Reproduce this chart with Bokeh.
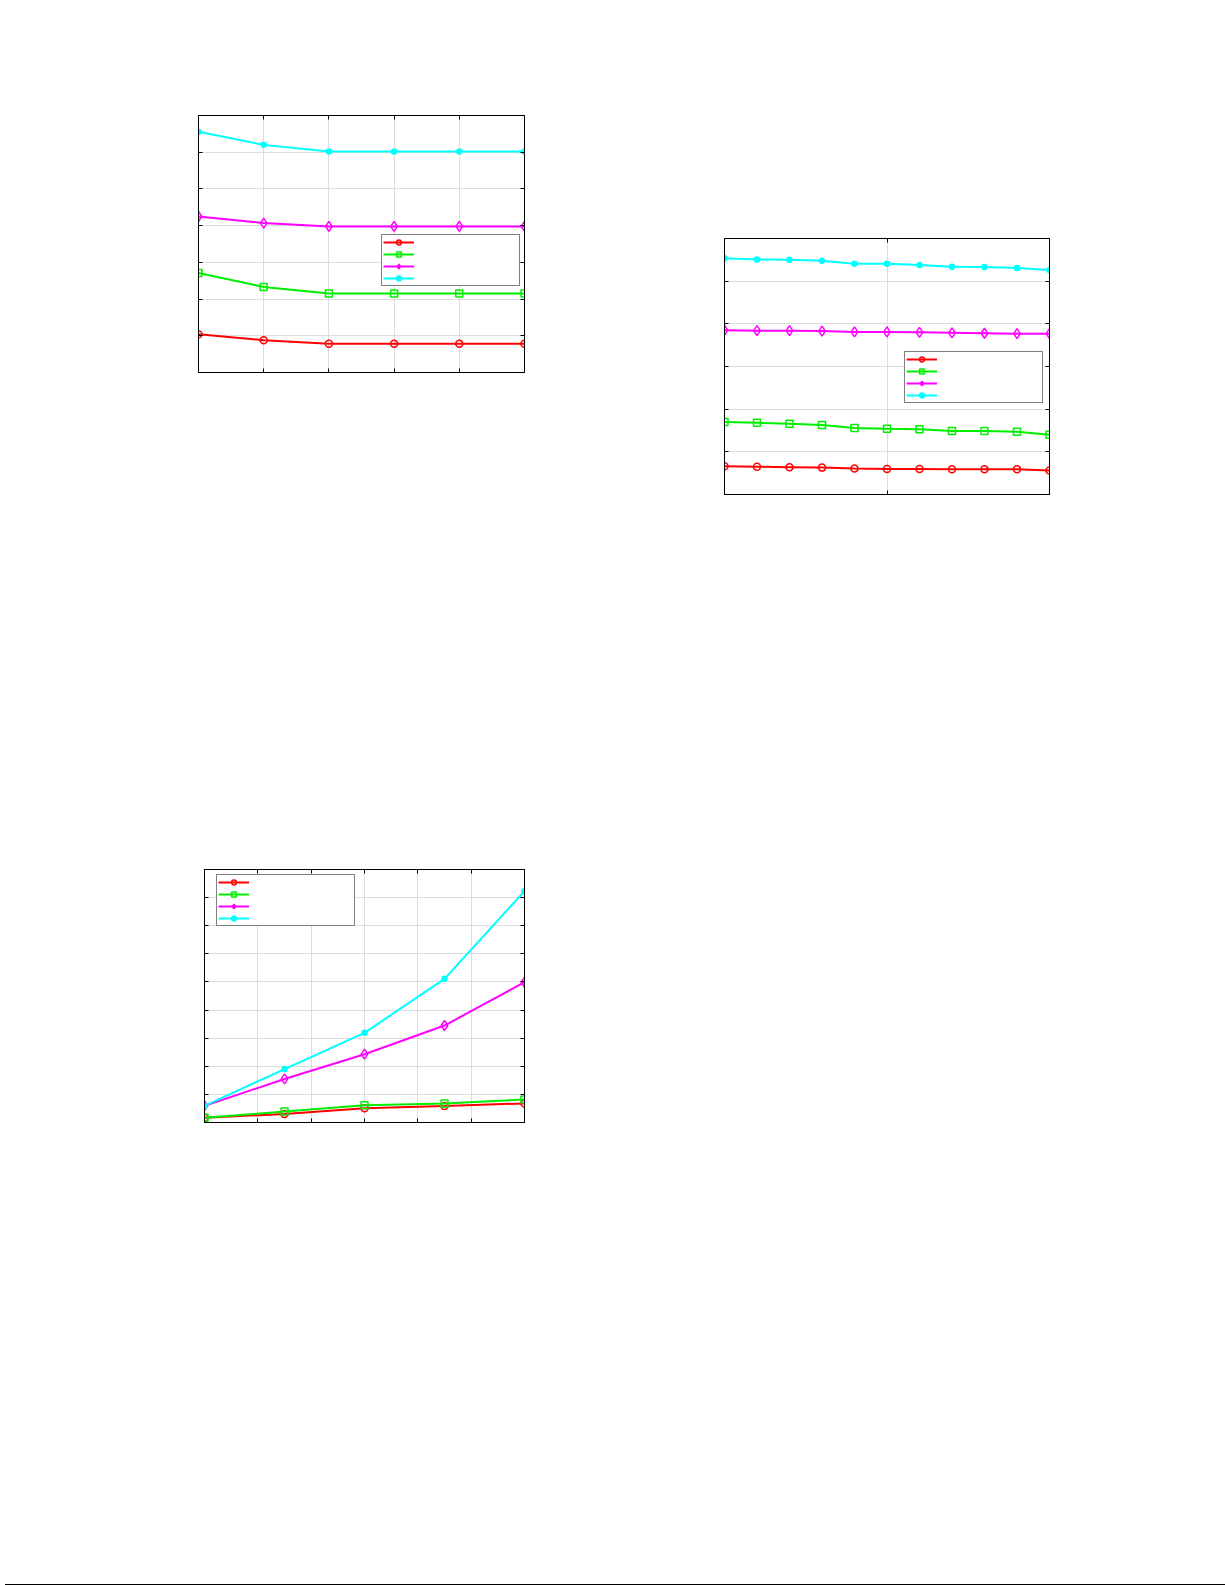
from bokeh.plotting import figure
from bokeh.models import Range1d, LinearAxis, FixedTicker, Legend, LegendItem, Div, Spacer
from bokeh.layouts import column, row
from bokeh.embed import file_html
from bokeh.resources import INLINE
from bokeh.core.properties import value

# ---------------- data ----------------
# Panel 1 (top left)
p1_x = [0, 1, 2, 3, 4, 5]
p1_red = [1.04, 0.88, 0.78, 0.78, 0.78, 0.78]
p1_green = [2.71, 2.33, 2.15, 2.15, 2.15, 2.15]
p1_magenta = [4.25, 4.07, 3.98, 3.98, 3.98, 3.98]
p1_cyan = [6.56, 6.20, 6.02, 6.02, 6.02, 6.02]
p1_xticks = [0, 1, 2, 3, 4, 5]
p1_yticks = [0, 1, 2, 3, 4, 5, 6, 7]

# Panel 2 (top right)
p2_x = [0, 1, 2, 3, 4, 5, 6, 7, 8, 9, 10]
p2_red = [0.66, 0.65, 0.64, 0.63, 0.61, 0.60, 0.60, 0.59, 0.59, 0.59, 0.56]
p2_green = [1.70, 1.68, 1.66, 1.63, 1.56, 1.54, 1.53, 1.49, 1.49, 1.47, 1.40]
p2_magenta = [3.85, 3.84, 3.84, 3.83, 3.81, 3.81, 3.80, 3.79, 3.78, 3.77, 3.77]
p2_cyan = [5.54, 5.51, 5.50, 5.48, 5.41, 5.41, 5.38, 5.34, 5.33, 5.31, 5.26]
p2_xticks = [0, 5, 10]
p2_yticks = [0, 1, 2, 3, 4, 5, 6]

# Panel 3 (bottom left)
p3_x = [0, 1.5, 3, 4.5, 6]
p3_red = [0.17, 0.30, 0.51, 0.59, 0.68]
p3_green = [0.17, 0.39, 0.61, 0.68, 0.82]
p3_magenta = [0.59, 1.55, 2.43, 3.45, 4.99]
p3_cyan = [0.59, 1.90, 3.19, 5.11, 8.23]
p3_xticks = [0, 1, 2, 3, 4, 5, 6]
p3_yticks = [0, 1, 2, 3, 4, 5, 6, 7, 8, 9]

COLORS = ["#ff0000", "#00ee00", "#ff00ff", "#00ffff"]
MARKERS = ["circle", "square", "diamond", "circle"]
SIZES = [7, 7, 10, 5]
FILLS = [None, None, None, "#00ffff"]


def style_axis(ax, ticks):
    ax.ticker = FixedTicker(ticks=ticks)
    ax.axis_line_color = "black"
    ax.axis_line_width = 1
    ax.major_tick_in = 4
    ax.major_tick_out = 0
    ax.major_tick_line_color = "black"
    ax.minor_tick_line_color = None
    ax.major_label_text_font_size = "0px"
    ax.major_label_text_color = None
    ax.major_label_standoff = 0


def make_panel(x, series, xticks, yticks, fw, fh, bl, br, bt, bb, leg_loc):
    p = figure(frame_width=fw, frame_height=fh,
               min_border_left=bl, min_border_right=br,
               min_border_top=bt, min_border_bottom=bb,
               x_range=Range1d(xticks[0], xticks[-1]),
               y_range=Range1d(yticks[0], yticks[-1]),
               output_backend="svg", toolbar_location=None)
    p.outline_line_color = "black"
    p.outline_line_width = 1
    p.background_fill_color = "white"
    p.border_fill_color = "white"
    style_axis(p.xaxis[0], xticks)
    style_axis(p.yaxis[0], yticks)
    top = LinearAxis()
    style_axis(top, xticks)
    p.add_layout(top, "above")
    right = LinearAxis()
    style_axis(right, yticks)
    p.add_layout(right, "right")
    p.grid.grid_line_color = "#dcdcdc"
    p.grid.grid_line_width = 1

    items = []
    for ys, c, m, s, f in zip(series, COLORS, MARKERS, SIZES, FILLS):
        ln = p.line(x, ys, line_color=c, line_width=2)
        sc = p.scatter(x, ys, marker=m, size=s, line_color=c, line_width=1.5,
                       fill_color=f)
        items.append(LegendItem(label=value(""), renderers=[ln, sc]))
    leg = Legend(items=items, location=leg_loc, padding=1, spacing=0,
                 glyph_width=31, glyph_height=12, label_height=12,
                 label_width=99, label_standoff=5, margin=0,
                 border_line_color="black", border_line_width=1,
                 background_fill_color="white", background_fill_alpha=1)
    p.add_layout(leg, "center")
    return p


f1 = make_panel(p1_x, [p1_red, p1_green, p1_magenta, p1_cyan], p1_xticks, p1_yticks,
                326, 257, 198, 100, 115, 248, (183, 86))
f2 = make_panel(p2_x, [p2_red, p2_green, p2_magenta, p2_cyan], p2_xticks, p2_yticks,
                325, 256, 100, 20, 115, 126, (180, 91))
f3 = make_panel(p3_x, [p3_red, p3_green, p3_magenta, p3_cyan], p3_xticks, p3_yticks,
                320, 253, 204, 20, 249, 457, (12, 196))

rule = Div(text="", width=1224, height=3, styles={"background-color": "black"})

layout = column(row(f1, column(Spacer(width=545, height=123), f2)), f3, rule)
open("out.html", "w").write(file_html(layout, INLINE))
